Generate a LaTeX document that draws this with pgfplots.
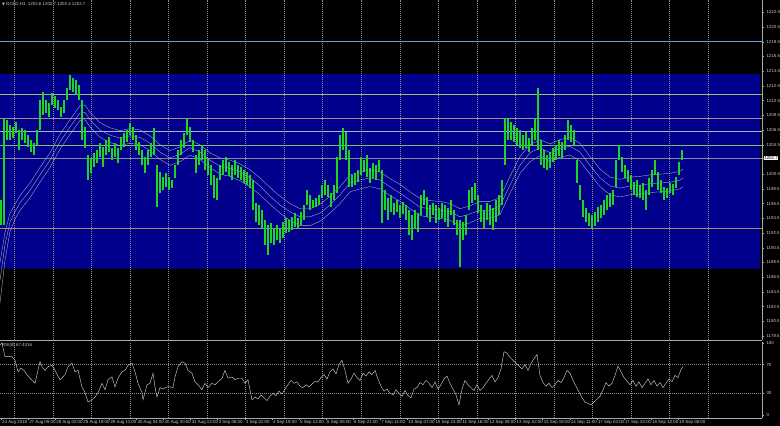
\documentclass[border=0pt]{standalone}
\usepackage{fontspec}
\setmainfont{Liberation Sans}
\newfontfamily\symfont{DejaVu Sans}
\usepackage{pgfplots}
\usepackage{pgfplotstable}
\pgfplotsset{compat=1.18}
\definecolor{bgblue}{HTML}{00008C}
\definecolor{candle}{HTML}{22D422}
\definecolor{axisgray}{HTML}{A8A8A8}
\definecolor{labgray}{HTML}{C8C8C8}
\definecolor{gridgray}{HTML}{8A8A8A}
\definecolor{magray}{HTML}{B4B4B4}
\definecolor{lnblue}{HTML}{6A9BE0}
\definecolor{lnolive}{HTML}{9CBC78}
\definecolor{lnrose}{HTML}{B08A8A}
\definecolor{lnsteel}{HTML}{A0B8C8}
\definecolor{lngreen}{HTML}{80C070}
\definecolor{lncur}{HTML}{8888A0}
\definecolor{lnbrown}{HTML}{B08A78}

\pgfplotstableread{
x ymain yrsi
14.3 1177.9 -4.2
52.8 1177.9 -4.2
91.4 1177.9 -4.2
129.9 1177.9 -4.2
168.5 1177.9 -4.2
207.0 1177.9 -4.2
245.5 1177.9 -4.2
284.1 1177.9 -4.2
322.6 1177.9 -4.2
361.2 1177.9 -4.2
399.7 1177.9 -4.2
438.2 1177.9 -4.2
476.8 1177.9 -4.2
515.3 1177.9 -4.2
553.9 1177.9 -4.2
592.4 1177.9 -4.2
630.9 1177.9 -4.2
669.5 1177.9 -4.2
708.0 1177.9 -4.2
}\gridx

\pgfplotstableread{
x lo hi
1 1193.6 1197.0
4 1193.6 1208.1
7 1205.1 1207.9
10 1205.1 1207.2
13 1205.4 1206.9
16 1206.1 1207.6
19 1203.8 1206.5
22 1205.1 1206.8
25 1204.7 1206.5
28 1204.2 1205.8
31 1203.5 1205.1
34 1203.1 1204.7
37 1204.5 1206.5
40 1206.5 1210.6
43 1208.5 1211.7
46 1208.8 1210.6
49 1208.3 1210.2
52 1209.9 1211.5
55 1209.5 1211.1
58 1209.2 1210.6
61 1208.3 1209.6
64 1208.8 1210.6
67 1210.6 1212.2
70 1211.9 1214.0
73 1211.7 1213.6
76 1211.3 1213.3
79 1210.6 1212.6
82 1205.1 1210.6
85 1204.1 1206.9
88 1199.7 1203.1
91 1200.6 1202.7
94 1201.5 1203.4
97 1202.0 1203.8
100 1202.8 1204.7
103 1201.5 1204.2
106 1203.1 1205.1
109 1203.5 1205.5
112 1202.4 1204.1
115 1202.8 1204.7
118 1202.0 1204.1
121 1203.8 1205.5
124 1204.2 1206.1
127 1204.9 1206.5
130 1205.8 1207.5
133 1205.1 1206.9
136 1203.8 1205.8
139 1203.1 1204.9
142 1201.7 1203.8
145 1200.6 1202.8
148 1201.7 1203.8
151 1202.8 1204.7
154 1203.1 1206.8
157 1196.0 1201.7
160 1197.9 1200.8
163 1198.3 1200.1
166 1198.8 1200.6
169 1198.3 1200.1
172 1198.6 1199.7
175 1200.0 1201.7
178 1201.7 1203.8
181 1203.1 1205.1
184 1204.1 1206.1
187 1205.8 1208.1
190 1204.9 1206.9
193 1203.5 1205.1
196 1200.6 1203.1
199 1201.7 1203.8
202 1202.4 1204.5
205 1201.1 1203.8
208 1200.4 1202.7
211 1199.0 1201.7
214 1197.3 1200.4
217 1197.0 1200.0
220 1199.7 1201.7
223 1200.4 1202.4
226 1200.8 1202.8
229 1200.3 1202.2
232 1199.7 1201.7
235 1200.4 1202.4
238 1200.0 1201.7
241 1199.7 1201.5
244 1199.3 1201.1
247 1199.0 1200.8
250 1198.6 1200.4
253 1195.6 1199.7
256 1194.0 1196.6
259 1193.6 1196.3
262 1193.2 1195.6
265 1190.9 1194.3
268 1189.5 1193.6
271 1191.2 1193.9
274 1190.9 1193.2
277 1191.5 1193.6
280 1191.1 1193.2
283 1191.8 1194.0
286 1192.5 1194.5
289 1192.6 1194.3
292 1192.9 1194.7
295 1193.3 1195.2
298 1193.2 1194.5
301 1193.6 1195.4
304 1194.3 1196.3
307 1196.3 1198.3
310 1195.6 1197.7
313 1195.9 1197.0
316 1196.0 1197.3
319 1196.3 1197.7
322 1197.3 1199.0
325 1197.7 1199.7
328 1197.4 1199.0
331 1196.0 1197.9
334 1197.0 1199.0
337 1197.9 1202.8
340 1202.4 1205.8
343 1203.8 1206.8
346 1202.4 1206.2
349 1198.8 1203.8
352 1198.8 1200.4
355 1199.0 1200.6
358 1199.4 1201.1
361 1200.4 1202.8
364 1200.8 1202.4
367 1200.1 1203.1
370 1199.3 1201.3
373 1200.0 1202.0
376 1199.7 1201.7
379 1200.8 1202.4
382 1193.9 1201.1
385 1195.6 1198.3
388 1194.3 1197.3
391 1195.4 1197.7
394 1195.0 1196.6
397 1195.4 1197.0
400 1194.5 1196.3
403 1195.1 1196.7
406 1194.3 1196.3
409 1192.2 1195.6
412 1191.5 1194.9
415 1193.2 1195.6
418 1192.6 1195.2
421 1194.9 1197.7
424 1196.3 1198.3
427 1194.7 1197.4
430 1194.0 1196.3
433 1194.9 1196.6
436 1193.9 1196.3
439 1194.3 1195.9
442 1194.5 1196.6
445 1194.0 1196.3
448 1193.3 1195.9
451 1194.9 1197.0
454 1193.6 1195.6
457 1192.2 1194.3
460 1187.9 1194.3
463 1191.5 1194.0
466 1192.2 1194.9
469 1195.6 1198.3
472 1196.6 1198.8
475 1197.0 1199.3
478 1195.2 1197.7
481 1194.0 1196.3
484 1193.2 1195.6
487 1194.3 1196.6
490 1193.6 1196.3
493 1192.9 1195.9
496 1194.0 1197.0
499 1194.9 1197.7
502 1196.3 1199.7
505 1201.7 1208.1
508 1205.1 1208.1
511 1205.1 1207.6
514 1204.9 1207.2
517 1204.5 1206.8
520 1204.1 1206.5
523 1203.8 1205.8
526 1204.1 1206.2
529 1203.5 1205.4
532 1204.5 1206.8
535 1205.1 1208.1
538 1203.8 1212.2
541 1201.7 1205.1
544 1201.3 1203.8
547 1201.1 1203.1
550 1201.3 1203.5
553 1202.2 1204.1
556 1202.4 1204.5
559 1203.0 1205.1
562 1202.7 1204.9
565 1203.8 1205.8
568 1205.1 1207.9
571 1204.9 1207.2
574 1204.5 1206.5
577 1199.3 1202.4
580 1197.0 1199.0
583 1194.7 1197.0
586 1194.0 1195.9
589 1193.4 1195.2
592 1193.2 1194.9
595 1193.4 1195.4
598 1194.0 1196.0
601 1194.5 1196.3
604 1194.9 1197.0
607 1195.6 1197.7
610 1196.0 1197.9
613 1196.3 1198.3
616 1198.8 1202.4
619 1202.4 1204.5
622 1200.8 1202.8
625 1200.0 1201.7
628 1199.4 1201.1
631 1198.3 1200.4
634 1197.7 1199.4
637 1197.4 1199.7
640 1197.3 1199.0
643 1197.0 1199.3
646 1195.6 1198.3
649 1197.7 1200.0
652 1198.8 1201.1
655 1200.4 1202.4
658 1198.3 1200.8
661 1197.9 1199.7
664 1197.0 1198.8
667 1197.3 1198.6
670 1197.9 1199.3
673 1197.7 1199.2
676 1198.6 1200.1
679 1200.4 1202.2
682 1202.4 1203.8
}\candles

\pgfplotstableread{
x up mid lo
0 1188.5 1186.1 1183.0
5 1192.6 1190.9 1188.8
10 1195.2 1194.0 1192.7
15 1196.4 1195.4 1194.4
20 1197.6 1196.6 1195.6
30 1199.3 1198.3 1197.3
40 1201.4 1200.4 1199.4
50 1203.4 1202.4 1201.4
60 1205.9 1204.9 1203.9
70 1207.9 1206.9 1205.9
80 1209.8 1208.8 1207.8
85 1209.9 1208.9 1207.9
90 1208.9 1207.9 1206.9
100 1207.5 1206.5 1205.5
110 1206.8 1205.8 1204.8
120 1206.4 1205.4 1204.4
130 1206.7 1205.7 1204.7
140 1206.5 1205.5 1204.5
150 1205.7 1204.7 1203.7
160 1204.5 1203.5 1202.5
170 1203.7 1202.7 1201.7
180 1204.2 1203.2 1202.2
190 1205.1 1204.1 1203.1
200 1204.5 1203.5 1202.5
210 1203.4 1202.4 1201.4
220 1202.7 1201.6 1200.5
230 1202.4 1201.3 1200.2
240 1201.9 1200.8 1199.6
250 1201.1 1200.0 1198.8
260 1200.0 1198.9 1197.7
270 1198.7 1197.5 1196.4
280 1197.5 1196.3 1195.2
290 1196.5 1195.4 1194.2
300 1195.8 1194.7 1193.5
310 1195.8 1194.7 1193.5
320 1196.4 1195.2 1194.1
330 1197.5 1196.3 1195.2
340 1198.8 1197.7 1196.5
350 1200.4 1199.3 1198.1
360 1200.8 1199.7 1198.5
370 1201.1 1200.0 1198.8
380 1200.8 1199.7 1198.5
390 1199.9 1198.8 1197.6
400 1199.1 1197.9 1196.8
410 1198.1 1197.0 1195.8
420 1197.2 1196.0 1194.9
430 1196.9 1195.8 1194.6
440 1196.8 1195.6 1194.5
450 1196.5 1195.4 1194.2
460 1195.8 1194.7 1193.5
470 1196.2 1195.1 1193.9
480 1196.8 1195.6 1194.5
490 1196.8 1195.6 1194.5
500 1197.3 1196.2 1195.0
510 1200.2 1199.0 1197.9
520 1202.9 1201.7 1200.6
530 1204.5 1203.4 1202.2
540 1205.2 1204.1 1203.0
550 1204.6 1203.4 1202.2
560 1205.2 1204.0 1202.8
570 1205.5 1204.3 1203.1
580 1204.7 1203.5 1202.3
590 1202.9 1201.7 1200.5
600 1201.2 1200.0 1198.8
610 1200.1 1198.9 1197.7
620 1199.8 1198.6 1197.4
630 1200.1 1198.9 1197.7
640 1200.2 1199.0 1197.8
650 1200.4 1199.2 1198.0
660 1200.5 1199.3 1198.1
670 1200.6 1199.4 1198.2
680 1200.9 1199.7 1198.5
683 1201.2 1200.0 1198.8
}\mas

\pgfplotstableread{
x rsi
0 97
2 100
3 93
5 81
8 81
12 81
15 76
18 60
21 65
24 62
27 56
30 51
33 47
35 44
37 56
40 74
42 67
45 62
48 67
52 69
55 62
58 54
60 49
65 56
68 67
72 72
75 60
78 62
82 39
85 31
88 18
92 21
95 25
98 31
102 44
105 35
108 49
112 53
115 39
118 51
122 60
125 62
128 69
132 72
135 60
138 44
142 31
143 21
147 42
150 44
153 58
155 39
157 25
160 38
163 36
167 39
170 39
173 38
175 53
178 67
182 74
185 72
188 62
192 58
195 46
198 42
202 35
205 44
208 38
212 44
215 42
218 46
222 51
225 62
228 51
232 53
235 49
238 51
242 51
245 44
248 49
252 21
255 25
258 22
261 28
264 24
267 20
270 26
273 30
276 27
279 33
282 29
285 36
288 42
291 48
294 44
297 46
300 40
303 38
306 42
309 39
312 43
315 47
318 46
321 52
324 56
327 50
330 60
333 64
336 57
339 70
342 76
345 62
348 44
351 50
354 58
357 52
360 48
363 58
366 54
369 60
372 56
375 62
378 50
381 40
384 33
387 36
390 30
393 28
396 35
399 30
402 26
405 34
408 27
411 24
414 36
417 38
420 45
423 42
426 48
429 44
432 38
435 46
438 36
441 42
444 50
447 54
450 44
453 36
456 28
459 14
462 36
465 48
468 42
471 38
474 34
477 42
480 34
483 38
486 44
489 50
492 55
495 46
498 52
501 64
504 88
507 86
510 80
513 76
516 72
519 68
522 64
525 70
528 62
531 72
534 78
537 84
540 55
543 45
546 40
549 44
552 38
555 42
558 48
561 45
564 52
567 62
570 58
573 48
576 40
579 32
582 24
585 18
588 16
591 14
594 18
597 22
600 26
603 35
606 45
609 40
612 44
615 55
618 68
621 60
624 52
627 47
630 42
633 48
636 40
639 46
642 38
645 44
648 50
651 42
654 48
657 40
660 45
663 38
666 44
669 50
672 46
675 55
678 52
681 63
683 67.43
}\rsi

\pgfplotsset{
  mtaxis/.style={
    scale only axis, width=762pt, anchor=south west,
    xmin=0, xmax=762,
    axis x line*=bottom, axis y line*=right,
    axis line style={draw=axisgray, line width=0.8pt},
    tick align=outside, major tick length=2pt,
    every tick/.style={draw=axisgray, line width=0.4pt},
    ytick pos=right, yticklabel pos=right,
    tick label style={font=\fontsize{4.4}{5}\selectfont, text=labgray},
    yticklabel style={anchor=west, xshift=-1pt},
    /pgf/number format/assume math mode=true,
    clip=true,
  },
  gridln/.style={draw=gridgray, line width=0.4pt, dash pattern=on 1pt off 1pt},
}

\begin{document}
\begin{tikzpicture}
\path[use as bounding box, fill=black] (0pt,0pt) rectangle (780pt,426pt);

% main price panel
\begin{axis}[mtaxis,
  at={(0pt,86pt)}, height=340pt,
  ymin=1177.96, ymax=1224.17,
  xtick=\empty,
  ytick={1178.5,1180.5,1182.5,1184.5,1186.5,1188.5,1190.5,1192.5,1194.5,1196.5,1198.5,1200.5,1204.5,1206.5,1208.5,1210.5,1212.5,1214.5,1216.5,1218.5,1220.5,1222.5},
  yticklabel={\pgfmathprintnumber[fixed,fixed zerofill,precision=1,1000 sep={}]{\tick}},
  extra y ticks={1202.7},
  extra y tick labels={1202.7},
  extra y tick style={yticklabel style={fill=white, text=black, inner sep=0.6pt, xshift=0.5pt}},
]
\addplot[fill=bgblue, draw=none]
  coordinates {(0,1187.65) (760,1187.65) (760,1214.1) (0,1214.1) (0,1187.65)};

\addplot[gridln, quiver={u=0, v=46.3}] table[x=x, y=ymain] {\gridx};

\addplot[lnblue, line width=1.1pt] coordinates {(0,1218.5) (762,1218.5)};
\addplot[lnolive, line width=0.9pt] coordinates {(0,1211.35) (762,1211.35)};
\addplot[lnrose, line width=0.9pt] coordinates {(0,1208.05) (762,1208.05)};
\addplot[lnsteel, line width=0.9pt] coordinates {(0,1206.3) (762,1206.3)};
\addplot[lngreen, line width=0.9pt] coordinates {(0,1204.4) (762,1204.4)};
\addplot[lncur, line width=0.7pt] coordinates {(0,1202.7) (762,1202.7)};
\addplot[lnbrown, line width=0.9pt] coordinates {(0,1193.1) (762,1193.1)};

\addplot[magray, line width=0.35pt] table[x=x, y=up] {\mas};
\addplot[magray, line width=0.35pt] table[x=x, y=mid] {\mas};
\addplot[magray, line width=0.35pt] table[x=x, y=lo] {\mas};

\addplot[candle, line width=1.2pt, quiver={u=0, v=\thisrow{hi}-\thisrow{lo}}]
  table[x=x, y=lo] {\candles};
\end{axis}

% RSI panel
\begin{axis}[mtaxis,
  at={(0pt,8pt)}, height=76pt,
  ymin=-4.2, ymax=101.4,
  ytick={0,30,70,100},
  xtick={1,28.1,55.2,82.2,109.3,136.4,163.5,190.6,217.6,244.7,271.8,298.9,326.0,353.0,380.1,407.2,434.3,461.4,488.4,515.5,542.6,569.7,596.8,623.8,650.9,678.0},
  xticklabels={24 Aug 2018,27 Aug 09:00,28 Aug 02:00,28 Aug 18:00,29 Aug 11:00,30 Aug 04:00,30 Aug 20:00,31 Aug 13:00,3 Sep 06:00,4 Sep 02:00,4 Sep 19:00,5 Sep 12:00,6 Sep 05:00,6 Sep 21:00,7 Sep 14:00,10 Sep 07:00,10 Sep 23:00,11 Sep 16:00,12 Sep 09:00,13 Sep 02:00,13 Sep 18:00,14 Sep 11:00,17 Sep 04:00,17 Sep 20:00,18 Sep 13:00,19 Sep 06:00},
  xticklabel style={anchor=north west, inner sep=0.5pt, xshift=0.5pt, yshift=0.3pt},
]
\addplot[gridln, quiver={u=0, v=105.6}] table[x=x, y=yrsi] {\gridx};
\addplot[gridln] coordinates {(0,70) (762,70)};
\addplot[gridln] coordinates {(0,30) (762,30)};
\addplot[labgray, line width=0.45pt] table[x=x, y=rsi] {\rsi};
\end{axis}

\node[anchor=west, inner sep=0pt, text=labgray, font=\fontsize{4.4}{5}\selectfont] at (2pt,421.5pt) {{\symfont\fontsize{3.6}{4}\selectfont ▼} GOLD,H1\ \ 1202.6 1202.7 1202.4 1202.7};
\node[anchor=west, inner sep=0pt, text=labgray, font=\fontsize{4.4}{5}\selectfont] at (2pt,80.5pt) {RSI(8) 67.4316};
\end{tikzpicture}
\end{document}
